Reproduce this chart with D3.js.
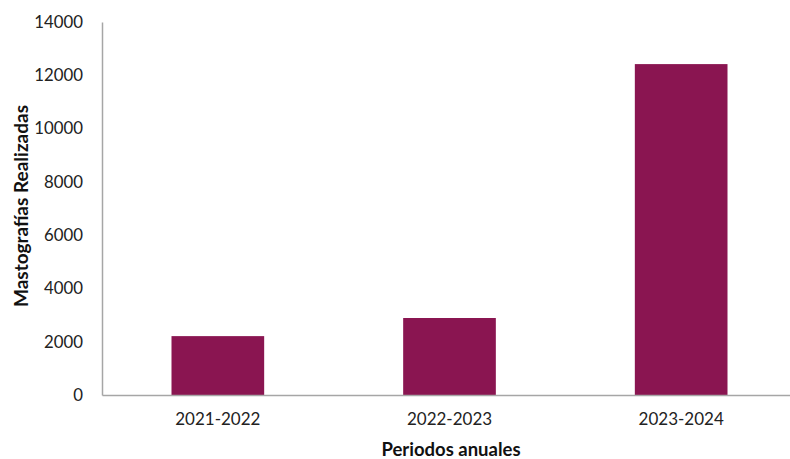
<!DOCTYPE html>
<html><head><meta charset="utf-8">
<script src="https://cdn.jsdelivr.net/npm/d3@7"></script>
<style>body{margin:0;background:#fff;}</style>
</head><body>
<svg id="c" width="790" height="459"></svg>
<script>
const categories = ["2021-2022", "2022-2023", "2023-2024"];
const values = [2210, 2890, 12420];
const yTicks = [0, 2000, 4000, 6000, 8000, 10000, 12000, 14000];

const svg = d3.select("#c");
const font = "Lato, 'Open Sans', sans-serif";
const x = d3.scaleBand().domain(categories).range([102, 797]).paddingInner(0.6).paddingOuter(0.3);
const y = d3.scaleLinear().domain([0, 14000]).range([395, 22]);

svg.selectAll("rect.bar").data(values).enter().append("rect")
  .attr("class", "bar")
  .attr("x", (d, i) => x(categories[i]))
  .attr("width", x.bandwidth())
  .attr("y", d => y(d))
  .attr("height", d => y(0) - y(d))
  .attr("fill", "#8a1551");

const yAxis = svg.append("g").attr("transform", "translate(102,0)")
  .call(d3.axisLeft(y).tickValues(yTicks).tickSize(0).tickPadding(19).tickFormat(d3.format("d")));
yAxis.select(".domain").attr("stroke", "#a6a6a6").attr("stroke-width", 1.5);
yAxis.selectAll("text").attr("font-family", font).attr("font-size", 16.8).attr("fill", "#222");

const xAxis = svg.append("g").attr("transform", "translate(0,395)")
  .call(d3.axisBottom(x).tickSize(0).tickPadding(18));
xAxis.select(".domain").attr("stroke", "#a6a6a6").attr("stroke-width", 1.5);
xAxis.selectAll("text").attr("font-family", font).attr("font-size", 17).attr("fill", "#222");

svg.append("text").attr("x", 451).attr("y", 456).attr("text-anchor", "middle")
  .attr("font-family", font).attr("font-size", 18.5).attr("font-weight", "bold").attr("fill", "#111")
  .text("Periodos anuales");
svg.append("text").attr("transform", "translate(28,206) rotate(-90)").attr("text-anchor", "middle")
  .attr("font-family", font).attr("font-size", 19).attr("font-weight", "bold").attr("fill", "#111")
  .text("Mastografías Realizadas");
</script>
</body></html>
